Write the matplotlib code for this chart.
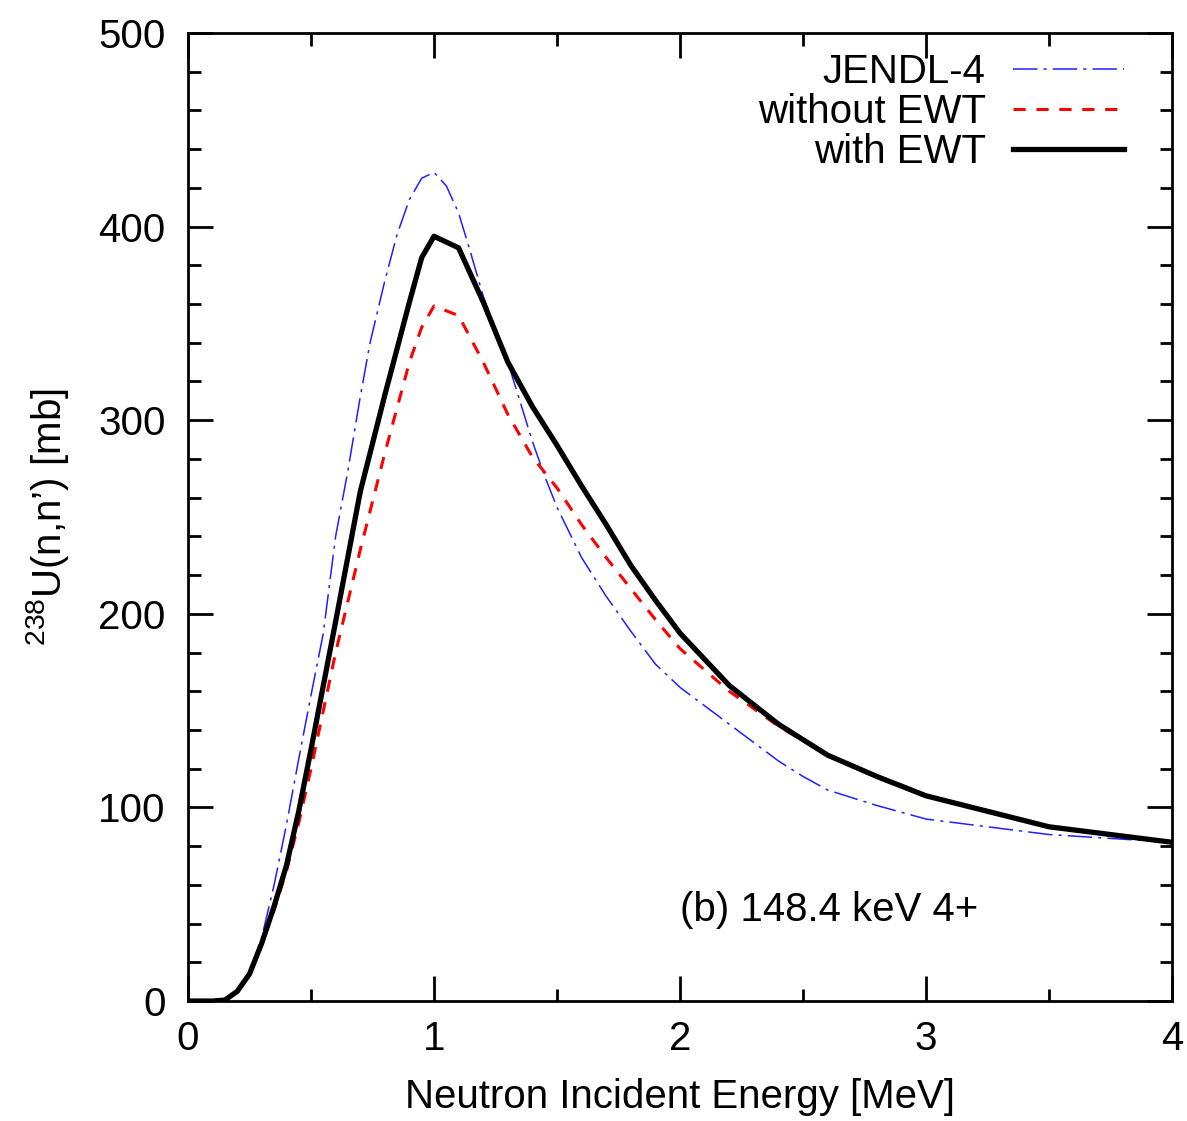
import matplotlib
matplotlib.use('Agg')
import matplotlib.pyplot as plt

plt.rcParams['font.family'] = ['Liberation Sans', 'DejaVu Sans']
plt.rcParams['mathtext.fontset'] = 'custom'
plt.rcParams['mathtext.rm'] = 'Liberation Sans'
plt.rcParams['mathtext.it'] = 'Liberation Sans'

# --- data ---
e_jendl = [0.0, 0.1, 0.15, 0.2, 0.25, 0.3, 0.35, 0.4, 0.45, 0.5, 0.55, 0.6, 0.65, 0.7, 0.74,
           0.8, 0.85, 0.9, 0.95, 1.0, 1.05, 1.1, 1.15, 1.2, 1.3, 1.4, 1.45, 1.5, 1.6, 1.7,
           1.8, 1.9, 2.0, 2.2, 2.4, 2.5, 2.6, 2.8, 3.0, 3.5, 4.0]
xs_jendl = [0, 0, 0.5, 5, 15, 33, 60, 91, 125, 158, 190, 240, 274, 312, 340,
            372, 396, 414, 425, 428, 421, 407, 386, 364, 330, 289, 271, 255, 229, 209,
            191, 174, 162, 143, 124, 116, 109, 101, 94, 86, 82]

e_ewt = [0.0, 0.1, 0.15, 0.2, 0.25, 0.3, 0.35, 0.4, 0.45, 0.5, 0.6, 0.7, 0.8, 0.9, 0.95,
         1.0, 1.1, 1.2, 1.3, 1.4, 1.5, 1.6, 1.7, 1.8, 1.9, 2.0, 2.2, 2.4, 2.6, 2.8,
         3.0, 3.5, 4.0]
xs_with = [0, 0, 0.5, 5, 14, 30, 49, 70, 98, 130, 196, 263, 313, 361, 384,
           395, 389, 361, 330, 307, 287, 266, 246, 225, 207, 190, 163, 143, 127, 116,
           106, 90, 82]
xs_without = [0, 0, 0.5, 5, 14, 30, 47, 67, 92, 120, 180, 233, 283, 330, 348,
              359, 354, 330, 303, 281, 265, 246, 229, 213, 197, 182, 160, 142, 127, 116,
              106, 90, 82]

fig = plt.figure(figsize=(11.87, 11.21), dpi=100)
ax = fig.add_axes([0.1584, 0.107, 0.829, 0.8636])

ax.plot(e_jendl, xs_jendl, color='#2020ff', lw=1.1, dashes=(16, 4, 2, 4), label='JENDL-4')
ax.plot(e_ewt, xs_without, color='#ff0000', lw=2.2, dashes=(4, 3.5), label='without EWT')
ax.plot(e_ewt, xs_with, color='black', lw=3.8, label='with EWT')

ax.set_xlim(0, 4)
ax.set_ylim(0, 500)
ax.set_xticks([0, 1, 2, 3, 4])
ax.set_xticks([0.5, 1.5, 2.5, 3.5], minor=True)
ax.set_yticks([0, 100, 200, 300, 400, 500])
ax.set_yticks([y for y in range(0, 501, 20) if y % 100], minor=True)
ax.tick_params(which='both', direction='in', top=True, right=True, width=2, labelsize=29)
ax.tick_params(which='major', length=18, pad=14)
ax.tick_params(which='minor', length=9)
ax.tick_params(axis='y', which='major', pad=16)
for s in ax.spines.values():
    s.set_linewidth(2)

ax.set_xlabel('Neutron Incident Energy [MeV]', fontsize=29, labelpad=14)
ax.set_ylabel(r"$^{238}$U(n,n’) [mb]", fontsize=29, labelpad=20)

ax.text(2.0, 47, '(b) 148.4 keV 4+', fontsize=29, va='center', ha='left')

leg = ax.legend(loc='upper right', frameon=False, markerfirst=False, fontsize=29,
                handlelength=2.75, handletextpad=0.68, labelspacing=0.05,
                borderaxespad=0, borderpad=0, bbox_to_anchor=(0.951, 0.979))

fig.savefig('out.png', dpi=100)
